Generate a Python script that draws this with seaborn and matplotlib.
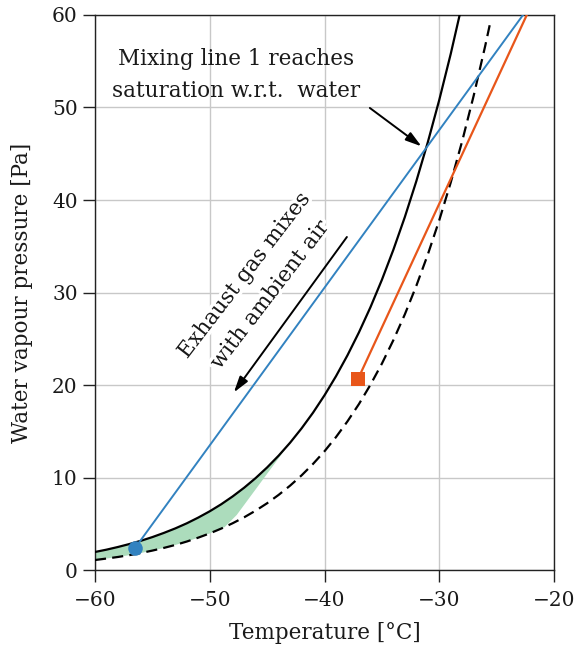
import numpy as np
import pandas as pd
import matplotlib
matplotlib.use("Agg")
import matplotlib.pyplot as plt
import matplotlib.patheffects as pe
import seaborn as sns

# Saturation vapour pressure over supercooled liquid water [Pa]
water_temp = [-60, -59, -58, -57, -56, -55, -54, -53, -52, -51, -50,
              -49, -48, -47, -46, -45, -44, -43, -42, -41, -40,
              -39, -38, -37, -36, -35, -34, -33, -32, -31, -30,
              -29, -28]
water_vp = [1.95, 2.20, 2.49, 2.81, 3.16, 3.56, 4.01, 4.50, 5.05, 5.67, 6.35,
            7.11, 7.96, 8.90, 9.94, 11.09, 12.36, 13.76, 15.31, 17.01, 18.89,
            20.95, 23.21, 25.69, 28.40, 31.37, 34.62, 38.16, 42.03, 46.24, 50.82,
            55.80, 61.21]

# Saturation vapour pressure over ice [Pa]
ice_temp = [-60, -59, -58, -57, -56, -55, -54, -53, -52, -51, -50,
            -49, -48, -47, -46, -45, -44, -43, -42, -41, -40,
            -39, -38, -37, -36, -35, -34, -33, -32, -31, -30,
            -29, -28, -27, -26, -25.5]
ice_vp = [1.08, 1.24, 1.41, 1.61, 1.84, 2.10, 2.39, 2.71, 3.08, 3.50, 3.96,
          4.48, 5.06, 5.70, 6.42, 7.22, 8.12, 9.12, 10.23, 11.47, 12.84,
          14.37, 16.07, 17.94, 20.02, 22.31, 24.85, 27.64, 30.72, 34.10, 37.82,
          41.90, 46.38, 51.28, 56.64, 59.51]

# Right-hand edge of the contrail-persistence region
edge_temp = [-48.7, -47.65, -45.3, -43.0]
edge_vp = [4.64, 5.95, 9.90, 13.76]

# Mixing lines (exhaust plume diluting into ambient air)
mix1_temp = [-56.5, -22.0]
mix1_vp = [2.40, 61.2]
mix2_temp = [-37.1, -22.0]
mix2_vp = [20.6, 61.0]

# Ambient states at the start of each mixing line
ambient_temp = [-56.5, -37.1]
ambient_vp = [2.40, 20.6]

x_ticks = [-60, -50, -40, -30, -20]
y_ticks = [0, 10, 20, 30, 40, 50, 60]

BLUE = "#3282c0"
ORANGE = "#e8561a"
GREEN = "#acdcbc"

sns.set_theme(style="whitegrid")
plt.rcParams["font.family"] = ["DejaVu Serif"]
plt.rcParams["mathtext.fontset"] = "dejavuserif"

fig = plt.figure(figsize=(5.74, 6.49), dpi=100)
ax = fig.add_axes([0.1655, 0.1217, 0.7997, 0.8552])
ax.set_facecolor("white")

# Shaded region between the two saturation curves
w = pd.DataFrame({"t": water_temp, "p": water_vp})
i = pd.DataFrame({"t": ice_temp, "p": ice_vp})
upper = w[w.t < edge_temp[-1]]
lower = i[i.t <= edge_temp[0]]
poly_t = list(upper.t) + edge_temp[::-1] + list(lower.t[::-1])
poly_p = list(upper.p) + edge_vp[::-1] + list(lower.p[::-1])
ax.fill(poly_t, poly_p, color=GREEN, lw=0, zorder=1.5)

sns.lineplot(x=water_temp, y=water_vp, ax=ax, color="black", lw=1.6,
             sort=False, estimator=None, zorder=3)
sns.lineplot(x=ice_temp, y=ice_vp, ax=ax, color="black", lw=1.6,
             linestyle=(0, (5, 2.8)), sort=False, estimator=None, zorder=3)
sns.lineplot(x=mix1_temp, y=mix1_vp, ax=ax, color=BLUE, lw=1.4,
             sort=False, estimator=None, zorder=3)
sns.lineplot(x=mix2_temp, y=mix2_vp, ax=ax, color=ORANGE, lw=1.6,
             sort=False, estimator=None, zorder=3)

sns.scatterplot(x=ambient_temp[:1], y=ambient_vp[:1], ax=ax, color=BLUE,
                marker="o", s=110, linewidth=0, zorder=4)
sns.scatterplot(x=ambient_temp[1:], y=ambient_vp[1:], ax=ax, color=ORANGE,
                marker="s", s=110, linewidth=0, zorder=4)

ax.set_xlim(-60, -20)
ax.set_ylim(0, 60)
ax.set_xticks(x_ticks)
ax.set_yticks(y_ticks)
ax.grid(True, color="#c8c8c8", lw=1.0)
for s in ax.spines.values():
    s.set_color("#222222")
    s.set_linewidth(1.0)
    s.set_visible(True)
ax.tick_params(axis="both", direction="out", length=8.5, width=1.0,
               color="#222222", labelsize=14.5, labelcolor="#1a1a1a", pad=4,
               bottom=True, left=True)
ax.tick_params(axis="x", pad=6.5)

ax.set_xlabel("Temperature [°C]", fontsize=15.5, color="#1a1a1a")
ax.set_ylabel("Water vapour pressure [Pa]", fontsize=15.5, color="#1a1a1a")
ax.xaxis.set_label_coords(0.5, -0.094)
ax.yaxis.set_label_coords(-0.134, 0.5)

# Annotations
arrow = dict(arrowstyle="-|>,head_length=0.6,head_width=0.18",
             color="black", lw=1.4, shrinkA=0, shrinkB=0)
ax.text(-47.67, 53.5, "Mixing line 1 reaches\nsaturation w.r.t.  water",
        ha="center", va="center", fontsize=15.5, color="#1a1a1a",
        linespacing=1.6, zorder=5)
ax.annotate("", xy=(-31.55, 45.8), xytext=(-36.05, 49.95),
            arrowprops=dict(arrow, mutation_scale=16), zorder=5)

ax.text(-45.9, 30.8, "Exhaust gas mixes\nwith ambient air",
        ha="center", va="center", rotation=52.5, rotation_mode="anchor",
        fontsize=15.5, color="#1a1a1a", linespacing=1.6, zorder=5,
        path_effects=[pe.withStroke(linewidth=5, foreground="white")])
ax.annotate("", xy=(-47.9, 19.2), xytext=(-38.05, 36.0),
            arrowprops=dict(arrow, mutation_scale=16), zorder=5)

fig.savefig("out.png", dpi=100, facecolor="white")
